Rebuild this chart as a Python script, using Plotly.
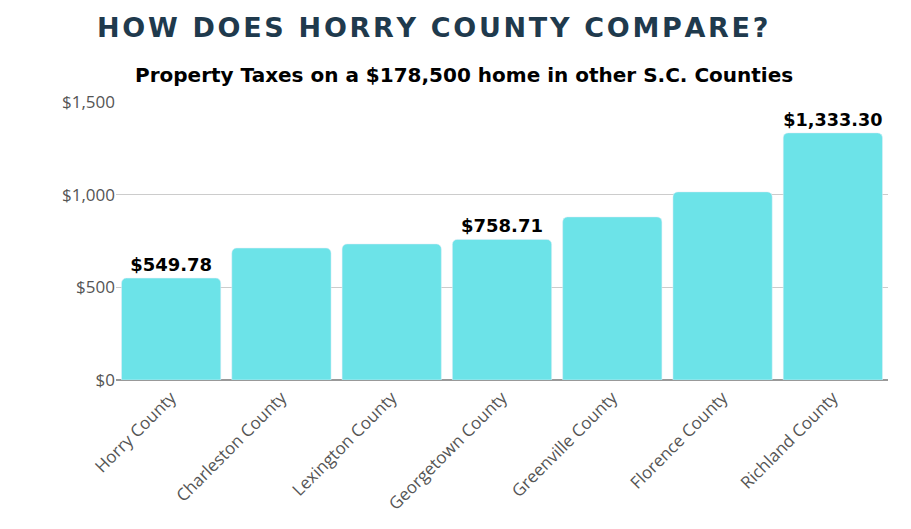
import plotly.graph_objects as go

counties = ["Horry County", "Charleston County", "Lexington County", "Georgetown County",
            "Greenville County", "Florence County", "Richland County"]
taxes = [549.78, 712, 734, 758.71, 880, 1015, 1333.30]
labels = ["$549.78", "", "", "$758.71", "", "", "$1,333.30"]

title = "HOW DOES HORRY COUNTY COMPARE?"
spaced_title = "\u200a".join(title)  # mimic letter spacing

fig = go.Figure()
fig.add_trace(go.Bar(
    x=counties, y=taxes, text=labels, textposition="outside",
    textfont=dict(family="DejaVu Sans", size=18, color="#000000", weight="bold"),
    marker=dict(color="#6ce3e8"), cliponaxis=False,
))

plot_h = 529 - 94 - 157
fig.update_layout(
    width=911, height=529,
    margin=dict(l=108, r=31, t=94, b=157, autoexpand=False),
    paper_bgcolor="white", plot_bgcolor="white",
    bargap=0.1, barcornerradius=5, showlegend=False,
    font=dict(family="Open Sans", color="#555555"),
    annotations=[
        dict(text=spaced_title, x=(424 - 108) / 772, y=1 + (94 - 20) / plot_h,
             xref="paper", yref="paper", xanchor="center", yanchor="middle", showarrow=False,
             font=dict(family="DejaVu Sans", size=27, color="#1f3a4d", weight="bold")),
        dict(text="Property Taxes on a $178,500 home in other S.C. Counties",
             x=(456 - 108) / 772, y=1 + (94 - 67) / plot_h,
             xref="paper", yref="paper", xanchor="center", yanchor="middle", showarrow=False,
             font=dict(family="DejaVu Sans", size=20, color="#000000", weight="bold")),
    ],
)

fig.update_yaxes(range=[0, 1500], tickvals=[0, 500, 1000, 1500],
                 ticktext=["$0", "$500", "$1,000", "$1,500"], automargin=False,
                 showgrid=True, gridcolor="#cccccc", zeroline=True, zerolinecolor="#999999",
                 tickfont=dict(size=17, color="#555555"), ticks="", ticklen=0)
fig.update_xaxes(tickangle=-45, tickfont=dict(size=17, color="#555555"), automargin=False,
                 showline=True, linecolor="#999999")

fig.write_html("out.html")
